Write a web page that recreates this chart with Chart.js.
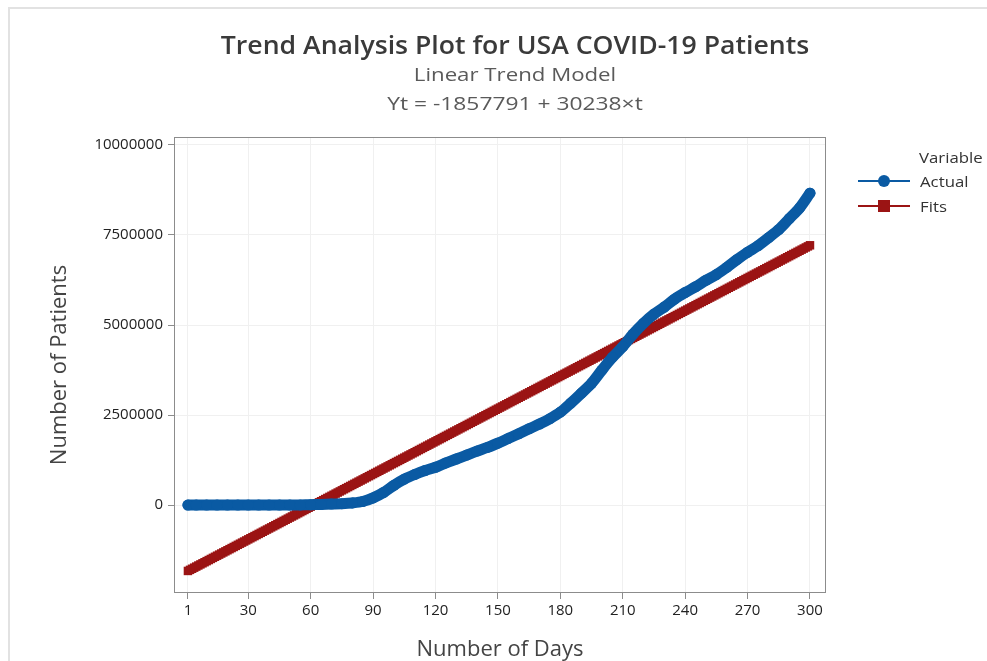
<!DOCTYPE html>
<html lang="en">
<head>
  <meta charset="UTF-8" />
  <title>Trend Analysis Plot for USA COVID-19 Patients</title>
  <style>
    html, body {
      margin: 0;
      padding: 0;
      background: #fff;
      font-family: 'Open Sans', 'Noto Sans', sans-serif;
    }
    #wrap {
      position: relative;
      width: 987px;
      height: 661px;
      overflow: hidden;
    }
    #frame {
      position: absolute;
      left: 8px;
      top: 7px;
      right: 0;
      bottom: 0;
      border-top: 2px solid #e2e2e2;
      border-left: 2px solid #e2e2e2;
    }
    #myChart {
      position: absolute;
      left: 0;
      top: 0;
    }
    .heading {
      position: absolute;
      left: 175px;
      width: 680px;
      text-align: center;
      white-space: nowrap;
    }
    #title { top: 27px; font-size: 25px; font-weight: 600; color: #3a3a3a; transform: scaleX(1.065); }
    #subtitle { top: 61px; font-size: 19px; color: #5a5a5a; transform: scaleX(1.17); }
    #equation { top: 90px; font-size: 19px; color: #5a5a5a; transform: scaleX(1.2); }
    #legend {
      position: absolute;
      left: 858px;
      top: 147px;
      font-size: 15px;
      color: #333;
    }
    #legend .head { margin-left: 61px; line-height: 21px; transform: scaleX(1.12); transform-origin: left; }
    #legend .item { display: flex; align-items: center; height: 25px; }
    #legend .item span { transform: scaleX(1.12); transform-origin: left; }
    #legend .key { position: relative; width: 52px; height: 14px; margin-right: 10px; }
    #legend .key .ln { position: absolute; left: 0; right: 0; top: 6px; height: 2px; }
    #legend .key .mk { position: absolute; left: 20px; top: 1px; width: 12px; height: 12px; }
  </style>
</head>
<body>
  <div id="wrap">
    <div id="frame"></div>
    <canvas id="myChart" width="987" height="661"></canvas>
    <div class="heading" id="title">Trend Analysis Plot for USA COVID-19 Patients</div>
    <div class="heading" id="subtitle">Linear Trend Model</div>
    <div class="heading" id="equation">Yt = -1857791 + 30238×t</div>
    <div id="legend">
      <div class="head">Variable</div>
      <div class="item">
        <div class="key"><div class="ln" style="background:#0a5aa3"></div><div class="mk" style="background:#0a5aa3;border-radius:50%"></div></div>
        <span>Actual</span>
      </div>
      <div class="item">
        <div class="key"><div class="ln" style="background:#9b1414"></div><div class="mk" style="background:#9b1414"></div></div>
        <span>Fits</span>
      </div>
    </div>
  </div>

  <script src="https://cdn.jsdelivr.net/npm/chart.js"></script>
  <script>
    // Observed cumulative patients, sampled every 5 days
    const actualDays = [1, 5, 10, 15, 20, 25, 30, 35, 40, 45, 50, 55, 60, 65, 70, 75, 80, 85, 90, 95,
      100, 105, 110, 115, 120, 125, 130, 135, 140, 145, 150, 155, 160, 165, 170, 175, 180, 185, 190, 195,
      200, 205, 210, 215, 220, 225, 230, 235, 240, 245, 250, 255, 260, 265, 270, 275, 280, 285, 290, 295, 300];
    const actualPatients = [0, 0, 0, 0, 0, 0, 0, 0, 0, 0, 2000, 5000, 10000, 20000, 30000, 40000, 60000, 100000, 200000, 350000,
      550000, 720000, 850000, 960000, 1050000, 1170000, 1280000, 1390000, 1500000, 1600000, 1720000, 1850000, 1980000, 2120000, 2250000, 2400000, 2580000, 2830000, 3100000, 3380000,
      3750000, 4100000, 4400000, 4750000, 5050000, 5300000, 5500000, 5720000, 5900000, 6060000, 6240000, 6400000, 6600000, 6820000, 7020000, 7200000, 7420000, 7650000, 7950000, 8250000, 8660000];

    // Linear trend model from the fitted equation
    const fitIntercept = -1857791;
    const fitSlope = 30238;
    const fitDays = Array.from({ length: 300 }, (_, i) => i + 1);

    const xTickValues = [1, 30, 60, 90, 120, 150, 180, 210, 240, 270, 300];
    const yTickValues = [0, 2500000, 5000000, 7500000, 10000000];

    const actualPoints = actualDays.map((d, i) => ({ x: d, y: actualPatients[i] }));
    const fitPoints = fitDays.map(t => ({ x: t, y: fitIntercept + fitSlope * t }));

    // box around the plotting area
    const plotFrame = {
      id: 'plotFrame',
      afterDatasetsDraw(chart) {
        const { ctx, chartArea: a } = chart;
        ctx.save();
        ctx.strokeStyle = '#8c8c8c';
        ctx.lineWidth = 1;
        ctx.strokeRect(a.left + 0.5, a.top + 0.5, a.right - a.left - 1, a.bottom - a.top - 1);
        ctx.restore();
      }
    };

    const tickFont = { family: "'Open Sans', 'Noto Sans', sans-serif", size: 15 };
    const titleFont = { family: "'Open Sans', 'Noto Sans', sans-serif", size: 22 };

    new Chart(document.getElementById('myChart'), {
      type: 'line',
      data: {
        datasets: [
          {
            label: 'Fits',
            data: fitPoints,
            borderColor: '#9b1414',
            backgroundColor: '#9b1414',
            borderWidth: 2,
            pointStyle: 'rect',
            pointRadius: 6,
            pointBorderWidth: 0,
            order: 2
          },
          {
            label: 'Actual',
            data: actualPoints,
            borderColor: '#0a5aa3',
            backgroundColor: '#0a5aa3',
            borderWidth: 11,
            borderCapStyle: 'round',
            borderJoinStyle: 'round',
            tension: 0.3,
            pointRadius: 5.5,
            pointBorderWidth: 0,
            order: 1
          }
        ]
      },
      options: {
        responsive: false,
        animation: false,
        layout: { padding: { left: 0, right: 161, top: 137, bottom: 0 } },
        plugins: {
          legend: { display: false },
          tooltip: { enabled: false }
        },
        scales: {
          x: {
            type: 'linear',
            min: -5.7,
            max: 307.7,
            afterBuildTicks: s => { s.ticks = xTickValues.map(v => ({ value: v })); },
            afterFit: s => { s.height = 68; },
            grid: { color: '#f0f0f0', tickColor: '#8c8c8c', tickLength: 6, drawOnChartArea: true },
            border: { display: false },
            ticks: { font: tickFont, color: '#222', padding: 3, maxRotation: 0 },
            title: { display: true, text: 'Number of Days', font: titleFont, color: '#444', padding: { top: 0, bottom: -2 } }
          },
          y: {
            min: -2440000,
            max: 10220000,
            afterBuildTicks: s => { s.ticks = yTickValues.map(v => ({ value: v })); },
            afterFit: s => { s.width = 174; },
            grid: { color: '#f0f0f0', tickColor: '#8c8c8c', tickLength: 6 },
            border: { display: false },
            ticks: { font: tickFont, color: '#222', padding: 5, callback: v => String(v) },
            title: { display: true, text: 'Number of Patients', font: titleFont, color: '#444', padding: { top: 47, bottom: 0 } }
          }
        }
      },
      plugins: [plotFrame]
    });
  </script>
</body>
</html>
